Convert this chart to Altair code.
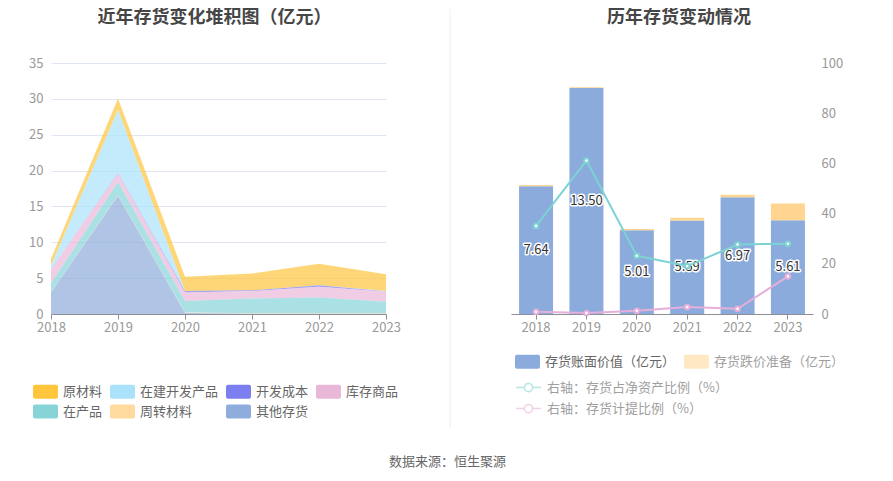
import altair as alt
import pandas as pd

FONT = "Noto Sans CJK SC"

# ---------------- data ----------------
years = ["2018", "2019", "2020", "2021", "2022", "2023"]

cat_names = ["原材料", "在建开发产品", "开发成本", "库存商品", "在产品", "周转材料", "其他存货"]
cat_colors = ["#FFC53D", "#A9E2FA", "#7B7FF0", "#E9B8D9", "#86D4D8", "#FFDA9E", "#8EADDC"]
stack_order = ["其他存货", "周转材料", "在产品", "库存商品", "开发成本", "在建开发产品", "原材料"]

raw_material = [0.95, 1.6, 2.0, 2.35, 3.0, 2.35]
building_products = [0.5, 8.8, 0.0, 0.0, 0.0, 0.05]
dev_cost = [0.0, 0.05, 0.2, 0.1, 0.2, 0.05]
goods = [2.0, 1.2, 1.2, 1.05, 1.5, 1.4]
wip = [1.2, 1.85, 1.6, 2.05, 2.2, 1.6]
turnover = [0.05, 0.05, 0.05, 0.05, 0.05, 0.05]
other = [3.0, 16.5, 0.15, 0.05, 0.05, 0.05]

book_value = [7.64, 13.50, 5.01, 5.59, 6.97, 5.61]
reserve = [0.07, 0.05, 0.07, 0.16, 0.15, 0.99]
ratio_net_assets = [35.1, 61.1, 23.2, 19.1, 27.7, 28.0]
ratio_provision = [0.9, 0.4, 1.3, 2.8, 2.1, 15.0]

bar_names = ["存货账面价值（亿元）", "存货跌价准备（亿元）"]
bar_colors = ["#8AABDB", "#FFD591"]
line_names = ["右轴：存货占净资产比例（%）", "右轴：存货计提比例（%）"]
line_colors = ["#7DD3D3", "#E6AEDA"]

left_title = "近年存货变化堆积图（亿元）"
right_title = "历年存货变动情况"
source_text = "数据来源：恒生聚源"

# ---------------- tables ----------------
series = dict(zip(cat_names, [raw_material, building_products, dev_cost, goods, wip, turnover, other]))
rows = []
for name, vals in series.items():
    for yr, v in zip(years, vals):
        rows.append({"year": yr, "cat": name, "value": v, "ord": stack_order.index(name)})
df_left = pd.DataFrame(rows)

bar_rows = []
for i, (name, vals) in enumerate(zip(bar_names, [book_value, reserve])):
    for yr, v in zip(years, vals):
        bar_rows.append({"year": yr, "series": name, "value": v, "ord": i})
df_bar = pd.DataFrame(bar_rows)
df_book = pd.DataFrame({"year": years, "book": book_value})

line_rows = []
for name, vals in zip(line_names, [ratio_net_assets, ratio_provision]):
    for yr, v in zip(years, vals):
        line_rows.append({"year": yr, "series": name, "value": v})
df_line = pd.DataFrame(line_rows)

one = pd.DataFrame({"a": [0]})

rect_path = ("M-0.84,-0.56 L0.84,-0.56 Q1,-0.56 1,-0.4 L1,0.4 Q1,0.56 0.84,0.56 "
             "L-0.84,0.56 Q-1,0.56 -1,0.4 L-1,-0.4 Q-1,-0.56 -0.84,-0.56 Z")
line_sym_path = ("M-1,0 L-0.33,0 M0.33,0 L1,0 M0.33,0 A0.33,0.33 0 1,1 -0.33,0 "
                 "A0.33,0.33 0 1,1 0.33,0 Z")

GRID = "#E0E6F1"
LABEL = "#999999"
AXISLINE = "#8C8F96"

# ---------------- left chart ----------------
LW, H = 335, 251
RIGHT_OFFSET = 460  # right plot origin relative to left plot origin (legends live at root)

left_area = alt.Chart(df_left).mark_area(opacity=0.7, interpolate="linear").encode(
    x=alt.X("year:O", scale=alt.Scale(type="point", padding=0),
            axis=alt.Axis(title=None, labelAngle=0, labelFont=FONT, labelFontSize=13,
                          labelColor=LABEL, domainColor=AXISLINE, tickColor=AXISLINE,
                          tickSize=5, labelPadding=2, grid=False)),
    y=alt.Y("value:Q", stack="zero", scale=alt.Scale(domain=[0, 35], nice=False),
            axis=alt.Axis(title=None, values=[0, 5, 10, 15, 20, 25, 30, 35], labelFont=FONT,
                          labelFontSize=13, labelColor=LABEL, domain=False, ticks=False,
                          labelPadding=8, gridColor=GRID)),
    color=alt.Color("cat:N", scale=alt.Scale(domain=cat_names, range=cat_colors),
                    legend=alt.Legend(title=None, orient="none", legendX=-18, legendY=316,
                                      columns=4, direction="horizontal",
                                      symbolType=rect_path, symbolSize=625, symbolOpacity=1,
                                      symbolStrokeWidth=0, labelFont=FONT, labelFontSize=13,
                                      labelColor="#666666", labelOffset=5, columnPadding=7,
                                      rowPadding=0, labelLimit=300)),
    order=alt.Order("ord:Q", sort="ascending"),
)

divider = alt.Chart(one).mark_rule(color="#EEEEEE", strokeWidth=1).encode(
    x=alt.value(399), y=alt.value(-54), y2=alt.value(365)
)
left_title_mark = alt.Chart(one).mark_text(
    font=FONT, fontSize=18, fontWeight="bold", color="#464646", align="center", baseline="top"
).encode(x=alt.value(LW / 2 - 4), y=alt.value(-54), text=alt.value(left_title))
source_mark = alt.Chart(one).mark_text(
    font=FONT, fontSize=13, color="#666666", align="center", baseline="middle"
).encode(x=alt.value(396.5), y=alt.value(399), text=alt.value(source_text))

left = alt.layer(left_area, divider, left_title_mark, source_mark).properties(width=LW, height=H)

# ---------------- right chart ----------------
RW = 302
xband = alt.X("year:O", scale=alt.Scale(paddingInner=0.325, paddingOuter=0.16),
              axis=alt.Axis(title=None, labelAngle=0, labelFont=FONT, labelFontSize=13,
                            labelColor=LABEL, domainColor=AXISLINE, tickColor=AXISLINE,
                            tickSize=5, labelPadding=2, grid=False))

first_expr = "datum.label == '存货账面价值（亿元）'"
bars = alt.Chart(df_bar).mark_bar().encode(
    x=xband,
    y=alt.Y("value:Q", stack="zero", scale=alt.Scale(domain=[0, 15], nice=False),
            axis=alt.Axis(title=None, values=[0, 3, 6, 9, 12, 15], labelFont=FONT,
                          labelFontSize=13, labelColor=LABEL, domain=False, ticks=False,
                          labelPadding=8, gridColor=GRID)),
    fill=alt.Fill("series:N", scale=alt.Scale(domain=bar_names, range=bar_colors),
                  legend=alt.Legend(title=None, orient="none", legendX=RIGHT_OFFSET + 4,
                                    legendY=286, columns=2, direction="horizontal",
                                    symbolType=rect_path, symbolSize=625,
                                    symbolStrokeWidth=0, labelFont=FONT, labelFontSize=13,
                                    labelOffset=5, columnPadding=8, rowPadding=0,
                                    labelLimit=300,
                                    labelColor=alt.ExprRef(f"{first_expr} ? '#666666' : '#A0A0A0'"),
                                    symbolOpacity=alt.ExprRef(f"{first_expr} ? 1 : 0.55"))),
    order=alt.Order("ord:Q", sort="ascending"),
)

label_y = alt.Y("mid:Q", scale=alt.Scale(domain=[0, 15], nice=False), axis=None)
text_halo = alt.Chart(df_book).transform_calculate(mid="datum.book / 2").mark_text(
    font=FONT, fontSize=13, stroke="white", strokeWidth=3, fill="white", strokeJoin="round"
).encode(x=alt.X("year:O"), y=label_y, text=alt.Text("book:Q", format=".2f"))
text_main = alt.Chart(df_book).transform_calculate(mid="datum.book / 2").mark_text(
    font=FONT, fontSize=13, fill="#333333"
).encode(x=alt.X("year:O"), y=label_y, text=alt.Text("book:Q", format=".2f"))

inner = alt.layer(bars, text_halo, text_main)

line_y = alt.Y("value:Q", scale=alt.Scale(domain=[0, 100], nice=False),
               axis=alt.Axis(title=None, orient="right", values=[0, 20, 40, 60, 80, 100],
                             labelFont=FONT, labelFontSize=13, labelColor=LABEL,
                             domain=False, ticks=False, grid=False, labelPadding=8))
line_stroke = alt.Stroke("series:N", scale=alt.Scale(domain=line_names, range=line_colors),
                         legend=alt.Legend(title=None, orient="none", legendX=RIGHT_OFFSET + 4,
                                           legendY=311, direction="vertical",
                                           symbolType=line_sym_path,
                                           symbolSize=625, symbolStrokeWidth=1.5,
                                           symbolOpacity=0.55, symbolFillColor="white",
                                           labelFont=FONT, labelFontSize=13, labelLimit=300,
                                           labelColor="#A0A0A0", labelOffset=5, rowPadding=0))

lines = alt.Chart(df_line).mark_line(strokeWidth=2).encode(
    x=alt.X("year:O"), y=line_y, stroke=line_stroke
)
points = alt.Chart(df_line).mark_point(filled=False, fill="white", size=22, strokeWidth=2,
                                       opacity=1).encode(
    x=alt.X("year:O"), y=line_y, stroke=line_stroke
)

right_title_mark = alt.Chart(one).mark_text(
    font=FONT, fontSize=18, fontWeight="bold", color="#464646", align="center", baseline="top"
).encode(x=alt.value(168), y=alt.value(-54), text=alt.value(right_title))

right = alt.layer(inner, alt.layer(lines, points), right_title_mark).resolve_scale(
    y="independent").properties(width=RW, height=H)

chart = alt.hconcat(left, right, spacing=125, bounds="flush").properties(
    padding={"left": 20, "top": 0, "right": 0, "bottom": 0},
).configure(font=FONT).configure_view(strokeWidth=0, stroke=None)

chart.save("out.html", embed_options={"renderer": "svg", "actions": False})
